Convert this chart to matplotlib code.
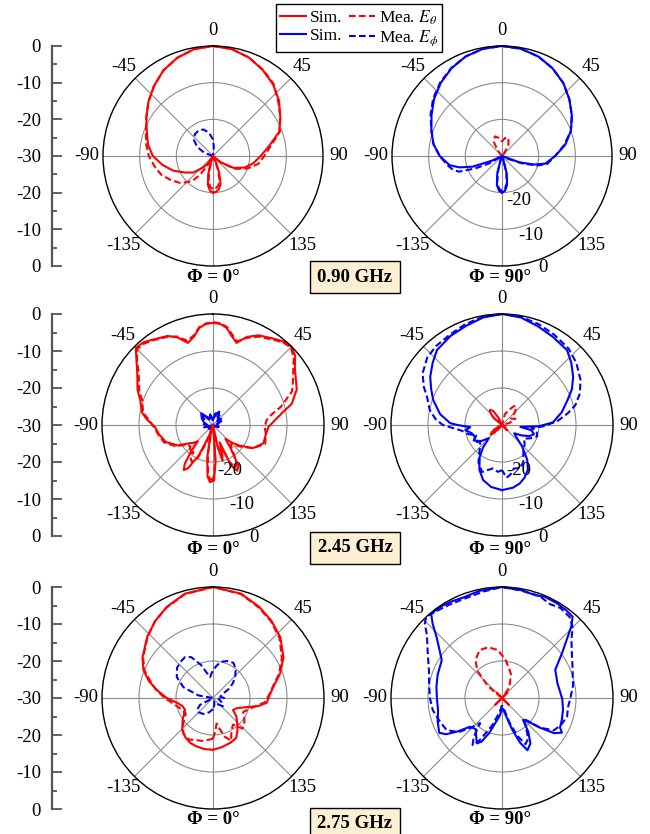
import numpy as np
import matplotlib
matplotlib.use('Agg')
import matplotlib.pyplot as plt
from matplotlib.lines import Line2D
from matplotlib.ticker import FixedLocator, FixedFormatter, MultipleLocator

plt.rcParams['font.family'] = ['Liberation Serif', 'DejaVu Serif']
plt.rcParams['mathtext.fontset'] = 'stix'
plt.rcParams['font.size'] = 13.5

# ---------------- data (theta in deg, level in dB) ----------------
THETA_TICKS = [0, 45, 90, 135, 180, 225, 270, 315]
THETA_LABELS = ['0', '45', '90', '135', '', '-135', '-90', '-45']
RING_VALUES = [10, 20]
RADIAL_LABELS = ['-20', '-10', '0']
SCALE_TICKS = [-30, -20, -10, 0, 10, 20, 30]
SCALE_LABELS = ['0', '-10', '-20', '-30', '-20', '-10', '0']
FREQS = ['0.90 GHz', '2.45 GHz', '2.75 GHz']
CUTS = ['Φ = 0°', 'Φ = 90°']

# 0.90 GHz, phi = 0
A_rs_th = [-180,-175,-170,-165,-160,-155,-150,-145,-140,-130,-120,-110,-100,-90,-80,-70,-60,-50,-40,-30,-20,-10,0,10,20,30,40,50,60,70,80,90,100,110,120,130,140,145,150,155,160,165,170,175]
A_rs_db = [-20.0,-20.5,-22,-25,-29,-31,-30,-27.5,-26,-23,-21,-18.4,-16,-13.6,-12,-10.8,-9,-7,-5,-3,-1.5,-0.4,0,-0.4,-1.4,-2.9,-4.5,-6.5,-8.8,-10.8,-14.5,-17,-18.8,-20.8,-23.5,-27.5,-31,-31,-30,-28,-25,-22,-20.8,-20.2]
A_rm_th = [-180,-175,-170,-165,-160,-155,-150,-145,-140,-130,-120,-110,-100,-90,-80,-70,-60,-50,-40,-30,-20,-10,0,10,20,30,40,50,60,70,80,90,100,110,120,130,140,150,155,160,165,170,175]
A_rm_db = [-21,-21.5,-23,-26,-30,-30,-27,-23.5,-21,-18.5,-16.8,-15,-13.8,-12.5,-11.5,-10.5,-9,-7,-5,-3,-1.5,-0.4,0,-0.4,-1.4,-2.8,-4.3,-6.8,-8.8,-10.6,-14,-16,-17.5,-20,-23,-27,-31,-31,-29,-26,-23,-21.8,-21.2]
A_bm_th = [-80,-70,-60,-50,-40,-30,-20,-10,0,5,10,20]
A_bm_db = [-31,-27.5,-25,-23.2,-22.3,-22,-22.3,-23.5,-25.5,-27.5,-30,-31]

# 0.90 GHz, phi = 90
B_bs_th = [-180,-175,-170,-165,-160,-155,-140,-125,-120,-115,-110,-105,-100,-90,-80,-70,-60,-50,-40,-30,-20,-10,0,10,20,30,40,50,60,70,80,90,100,105,110,115,120,140,155,160,165,170,175]
B_bs_db = [-20,-20.5,-22,-25,-29,-31,-31,-31,-30,-27,-21.5,-18,-15.5,-13,-11,-9.5,-7.8,-5.8,-4,-2.4,-1.1,-0.3,0,-0.3,-1.1,-2.4,-4,-6,-8,-10,-12.5,-15.5,-18,-21,-25,-30,-31,-31,-31,-29,-25,-22,-20.5]
B_bm_th = B_bs_th
B_bm_db = [-20.5,-21,-22.5,-25.5,-29,-31,-31,-30,-26,-22,-17.5,-16,-15,-13,-11,-9.5,-7.5,-5.5,-3.8,-2.3,-1.1,-0.3,0,-0.3,-1.1,-2.4,-4,-6,-8,-10,-12.8,-15.5,-17.5,-20,-24,-28,-31,-31,-31,-29,-25.5,-22.5,-21]
B_rm_th = [-45,-38,-30,-20,-10,0,10,20,30,38,45]
B_rm_db = [-31,-28,-25.5,-24.3,-25,-26,-25,-24.8,-26.5,-29,-31]

# 2.45 GHz, phi = 0
C_rs_th = [-180,-177,-174,-170,-166,-163,-160,-155,-150,-147,-144,-140,-137,-133,-128,-120,-110,-100,-92,-85,-80,-71,-65,-55,-50,-45,-40,-35,-27,-22,-17,-12,-8,-4,0,4,8,12,16,21,27,35,40,45,50,55,60,67,75,80,85,92,100,110,120,128,133,138,143,148,152,156,159,162,165,168,172,176,179]
C_rs_db = [-15,-14.5,-16,-21,-27,-30,-27,-21,-16.5,-15.5,-17,-21,-24,-23,-22,-19,-16.5,-15.2,-14.3,-12,-10.5,-9.2,-7.5,-5,-3,-0.5,-0.8,-1.8,-3,-4.5,-6.8,-5.5,-3.5,-2.6,-2.4,-2.6,-3.5,-5.5,-6.9,-4.5,-2.8,-1.5,-0.5,0,-1,-3,-4.2,-5.4,-8,-11,-13,-15,-15.5,-15.5,-17.5,-21,-23,-25,-22,-17,-16,-18,-25,-22,-20,-24,-30,-20,-15]
C_rm_th = C_rs_th
C_rm_db = [-15.5,-15.2,-17,-22,-28,-30,-25,-20,-18.5,-19,-21,-20,-21,-21.5,-21.5,-18.5,-16,-15,-14,-12.5,-10.8,-9.8,-8,-5.5,-3.2,-1,-1.2,-2,-3.2,-4.2,-6.2,-5.2,-3.3,-2.5,-2.2,-2.4,-3.2,-5,-6.5,-4.8,-3.2,-1.8,-0.8,-0.3,-1.5,-3.5,-5,-6.8,-11,-14,-15.5,-16,-15.5,-15,-17.5,-20.5,-22,-23,-21,-18,-17,-19,-24,-23,-21,-25,-29,-21,-16]
C_bs_th = [-180,-165,-150,-135,-120,-105,-90,-75,-60,-45,-35,-25,-15,0,15,25,35,50,65,80,100,120,140,160]
C_bs_db = [-30,-31,-29,-28.5,-30,-27.5,-28.5,-27.5,-26.5,-25.5,-27.5,-28,-27,-28.5,-27,-26,-27.5,-28.5,-27.5,-29,-28.5,-29.5,-30,-30.5]
C_bm_th = [-180,-160,-140,-120,-100,-85,-70,-55,-45,-40,-30,-20,-10,0,10,20,28,35,45,55,70,90,110,130,150,170]
C_bm_db = [-31,-30,-29,-28.5,-29,-27.5,-28,-27,-25.8,-27,-28.5,-27.5,-28,-29,-27,-26.2,-27.5,-26.5,-28,-27,-28.5,-29,-28,-29.5,-30,-31]

# 2.45 GHz, phi = 90
D_bs_th = [-180,-170,-161,-153,-145,-140,-135,-128,-120,-112,-105,-98,-94,-90,-88,-80,-70,-63,-56,-48,-41,-30,-20,-10,0,10,20,30,41,48,56,63,69,78,87,92,96,100,106,112,118,124,130,137,144,150,157,163,170]
D_bs_db = [-12.4,-13,-14.3,-16.5,-19.5,-22,-25,-23,-21.5,-22,-21.5,-20,-21.4,-18,-16,-13,-10.2,-8.5,-6.6,-4.8,-3.2,-2.2,-1.5,-0.5,0,-0.5,-1.6,-2.5,-3.2,-4.8,-6.8,-8.8,-11,-13.5,-16.2,-20,-25,-22,-21,-22,-24,-26,-25,-22,-18.4,-16,-14.5,-13.5,-12.8]
D_bm_th = [-180,-175,-168,-157,-148,-140,-135,-128,-120,-112,-105,-98,-90,-85,-78,-70,-64,-57,-48,-40,-30,-20,-10,0,10,20,30,41,50,60,68,75,80,86,92,96,100,108,115,122,130,140,150,157,165,170,175]
D_bm_db = [-17.8,-17.3,-18,-16.2,-18,-20.5,-21.6,-22.5,-21,-22.5,-20.5,-19,-14,-12,-10,-8.5,-6.5,-4.4,-2.8,-2.2,-1.8,-1,-0.3,0,-0.3,-1,-1.8,-2.6,-3.8,-5.5,-7.3,-9.5,-12,-15,-19,-22,-20.5,-20,-21.5,-23,-22,-21,-18.5,-17.4,-17.8,-16.5,-15.7]
D_rs_th = [-180,-150,-135,-125,-115,-100,-60,-50,-42,-38,-32,-25,-15,20,60,120,135,145]
D_rs_db = [-31,-30,-27,-26.5,-29,-31,-31,-27,-25,-24.8,-25.5,-28,-31,-31,-31,-31,-28,-31]
D_rm_th = [-150,-140,-130,-120,-100,-60,-40,-20,0,15,25,32,38,45,55,65,75,90,110,130]
D_rm_db = [-31,-28,-26,-27.5,-31,-31,-28.5,-29,-31,-27,-25.5,-24,-23.7,-25,-27,-26,-28,-31,-29,-31]

# 2.75 GHz, phi = 0
E_rs_th = [-180,-170,-160,-153,-145,-136,-125,-113,-105,-98,-90,-82,-75,-68,-60,-47,-37,-27,-15,0,15,27,37,48,60,70,80,88,95,100,105,113,121,128,136,143,150,159,170]
E_rs_db = [-16,-16,-16.2,-16.4,-17,-18,-20,-21.8,-21.5,-20.3,-17.5,-14.7,-12,-9.7,-8,-5.7,-4,-2.4,-0.8,0,-0.8,-2.4,-3.8,-5.5,-8,-10.7,-13.5,-14.8,-15.4,-17.5,-20.5,-23,-23.7,-22,-20.6,-19,-17.5,-17,-16.5]
E_rm_th = [-180,-172,-165,-159,-150,-140,-130,-120,-110,-100,-90,-82,-75,-68,-60,-47,-37,-27,-15,0,15,27,37,48,60,70,80,88,95,100,108,115,122,130,136,143,150,157,163,168,172,176]
E_rm_db = [-19,-18.5,-18,-17.8,-17,-17.5,-19.5,-21.5,-21,-19.5,-17,-14.5,-12.5,-10,-8.2,-5.8,-4,-2.5,-0.9,0,-0.9,-2.6,-4,-5.8,-8.5,-11,-13.7,-15,-16,-18,-20,-21,-20,-19,-18.5,-21,-20,-17.5,-19,-21.5,-23,-21]
E_bm_th = [-180,-165,-150,-135,-127,-118,-105,-95,-80,-70,-60,-50,-40,-34,-28,-20,-12,-8,-2,5,12,21,30,38,45,53,60,70,80,90,100,115,130,145,160,170]
E_bm_db = [-27,-26,-25,-24.5,-24.6,-26,-30,-31,-26,-21.5,-18.7,-17.3,-16.8,-16.6,-17.5,-20.5,-23.5,-24.3,-23,-21.5,-20,-19.3,-19,-20,-21.5,-23.2,-25,-27.5,-28,-27,-28.5,-27.5,-26.5,-28,-29,-28]

# 2.75 GHz, phi = 90
F_bs_th = [-180,-172,-165,-160,-155,-151,-146,-140,-132,-127,-123,-119,-110,-101,-90,-80,-70,-58,-52,-47,-43,-40,-33,-27,-21,-12,0,10,18,23,30,36,41,44,47,53,62,75,91,101,110,117,120,124,128,132,136,142,148,154,158,162,165,170,175]
F_bs_db = [-27,-25,-23,-20,-17,-16,-17.5,-19,-18.4,-15,-12,-10.6,-11.5,-12.4,-12.4,-12,-11.5,-10.8,-8.5,-5.8,-2.5,-0.2,-0.3,-0.6,-0.9,-0.4,0,-0.4,-0.8,-0.3,-0.4,-0.6,-0.9,-3,-5.7,-9.6,-13.7,-14.5,-13.7,-13.2,-12.8,-12.4,-11.3,-13,-17,-20.5,-21.8,-18.5,-15.5,-14.3,-17,-21,-23.7,-26,-27]
F_bm_th = [-180,-170,-160,-152,-148,-144,-139,-133,-128,-120,-110,-100,-90,-80,-70,-59,-50,-46,-43,-38,-30,-20,-10,0,10,20,27,33,40,45,50,57,65,73,80,90,98,106,115,122,128,134,140,147,153,158,163,170]
F_bm_db = [-28,-26,-22,-17,-15,-17,-21,-18,-15,-12.7,-12,-11,-10.5,-10,-9,-6.6,-3.5,-1,0,-0.5,-1,-1.3,-0.8,0,-0.5,-0.6,-1.5,-1,-1.5,-3,-5.5,-7.5,-9,-10,-10.5,-11.5,-12,-11.7,-12.5,-13.5,-17,-22,-20,-17,-16,-19,-23,-27]
F_rm_th = [-60,-50,-42,-35,-25,-15,-5,5,12,20,28,35,45]
F_rm_db = [-31,-25,-20,-17.5,-15.7,-15.8,-17,-19.5,-21.5,-23,-25.4,-27,-31]
F_rs_th = [-150,-135,-120,-60,-45,-30,30,45,60,120,135,150]
F_rs_db = [-31,-27.5,-31,-31,-28,-31,-31,-28,-31,-31,-27.5,-31]

# ---------------- layout ----------------
W, H = 650, 834
RED, BLUE = '#FF0000', '#0000FF'
DASH = (0, (3.2, 1.6))
LW = 1.5
FS = 13.5

fig = plt.figure(figsize=(W / 100, H / 100), dpi=100)


def polar_axes(cx, cy, R, show_rlabels):
    ax = fig.add_axes([(cx - R) / W, 1 - (cy + R) / H, 2 * R / W, 2 * R / H],
                      projection='polar')
    ax.set_theta_zero_location('N')
    ax.set_theta_direction(-1)
    ax.set_ylim(0, 30)
    ax.set_yticks(RING_VALUES)
    ax.set_yticklabels([])
    ax.set_thetagrids(THETA_TICKS, THETA_LABELS)
    ax.grid(True, color='#8c8c8c', lw=0.8)
    ax.spines['polar'].set_color('black')
    ax.spines['polar'].set_linewidth(1.0)
    ax.tick_params(axis='x', pad=1, labelsize=FS)
    ax.set_facecolor('none')
    if show_rlabels:
        for rr, lab in zip([13, 23, 32.5], RADIAL_LABELS):
            ax.text(np.deg2rad(160), rr, lab, ha='center', va='center', fontsize=FS,
                    clip_on=False)
    return ax


def draw(ax, th, db, color, dashed=False, closed=True):
    t = np.deg2rad(np.asarray(th, float))
    r = np.clip(np.asarray(db, float) + 30, 0, None)
    if closed:
        t = np.append(t, t[0])
        r = np.append(r, r[0])
    ax.plot(t, r, color=color, lw=LW, ls=DASH if dashed else '-', clip_on=False,
            solid_joinstyle='round')


def left_scale(cy, R):
    ax = fig.add_axes([52 / W, 1 - (cy + R) / H, 20 / W, 2 * R / H])
    ax.set_ylim(-30, 30)
    ax.yaxis.set_major_locator(FixedLocator(SCALE_TICKS))
    ax.yaxis.set_major_formatter(FixedFormatter(SCALE_LABELS))
    ax.yaxis.set_minor_locator(MultipleLocator(5))
    ax.tick_params(axis='y', which='major', direction='in', length=7, width=1.3,
                   color='#555555', labelsize=FS, pad=8)
    ax.tick_params(axis='y', which='minor', direction='in', length=3.5, width=1.3,
                   color='#555555')
    for s in ['top', 'right', 'bottom']:
        ax.spines[s].set_visible(False)
    ax.spines['left'].set_color('#555555')
    ax.spines['left'].set_linewidth(1.6)
    ax.set_xticks([])
    ax.patch.set_visible(False)
    return ax


rows = [156, 425, 698]
Rs = [110, 111, 111]
XL, XR = 213, 502
rlab = [(False, True), (True, True), (False, False)]

axes = []
for i, (cy, R) in enumerate(zip(rows, Rs)):
    left_scale(cy, R)
    a1 = polar_axes(XL, cy, R, rlab[i][0])
    a2 = polar_axes(XR, cy, R, rlab[i][1])
    axes.append((a1, a2))

(aA, aB), (aC, aD), (aE, aF) = axes

draw(aA, A_bm_th, A_bm_db, BLUE, True, False)
draw(aA, A_rm_th, A_rm_db, RED, True)
draw(aA, A_rs_th, A_rs_db, RED)

draw(aB, B_rm_th, B_rm_db, RED, True, False)
draw(aB, B_bm_th, B_bm_db, BLUE, True)
draw(aB, B_bs_th, B_bs_db, BLUE)

draw(aC, C_bm_th, C_bm_db, BLUE, True)
draw(aC, C_bs_th, C_bs_db, BLUE)
draw(aC, C_rm_th, C_rm_db, RED, True)
draw(aC, C_rs_th, C_rs_db, RED)

draw(aD, D_bm_th, D_bm_db, BLUE, True)
draw(aD, D_bs_th, D_bs_db, BLUE)
draw(aD, D_rm_th, D_rm_db, RED, True)
draw(aD, D_rs_th, D_rs_db, RED)

draw(aE, E_bm_th, E_bm_db, BLUE, True)
draw(aE, E_rm_th, E_rm_db, RED, True)
draw(aE, E_rs_th, E_rs_db, RED)

draw(aF, F_rs_th, F_rs_db, RED, False, False)
draw(aF, F_rm_th, F_rm_db, RED, True, False)
draw(aF, F_bm_th, F_bm_db, BLUE, True)
draw(aF, F_bs_th, F_bs_db, BLUE)

# titles and frequency boxes
title_y = [278, 549, 819]
box_y = [277, 548, 824]
for i in range(3):
    fig.text(XL / W, 1 - title_y[i] / H, CUTS[0], ha='center', va='center',
             fontsize=13.5, fontweight='bold')
    fig.text(XR / W - 2 / W, 1 - title_y[i] / H, CUTS[1], ha='center', va='center',
             fontsize=13.5, fontweight='bold')
    fig.text(355 / W, 1 - box_y[i] / H, FREQS[i], ha='center', va='center',
             fontsize=13.5, fontweight='bold',
             bbox=dict(boxstyle='square,pad=0.4', fc='#FCEFD2', ec='black', lw=1.0))

# legend
handles = [Line2D([], [], color=RED, lw=LW), Line2D([], [], color=BLUE, lw=LW),
           Line2D([], [], color=RED, lw=LW, ls=DASH), Line2D([], [], color=BLUE, lw=LW, ls=DASH)]
labels = ['Sim.', 'Sim.', 'Mea. $E_\\theta$', 'Mea. $E_\\phi$']
leg = fig.legend(handles, labels, ncol=2, loc='upper left',
                 bbox_to_anchor=(276 / W, 1 - 4 / H), frameon=True, fancybox=False,
                 edgecolor='black', framealpha=1, fontsize=12.5, handlelength=1.5,
                 handletextpad=0.2, columnspacing=0.4, labelspacing=0.1,
                 borderpad=0.25, borderaxespad=0)
leg.get_frame().set_linewidth(1.0)

fig.savefig('out.png', dpi=100)
